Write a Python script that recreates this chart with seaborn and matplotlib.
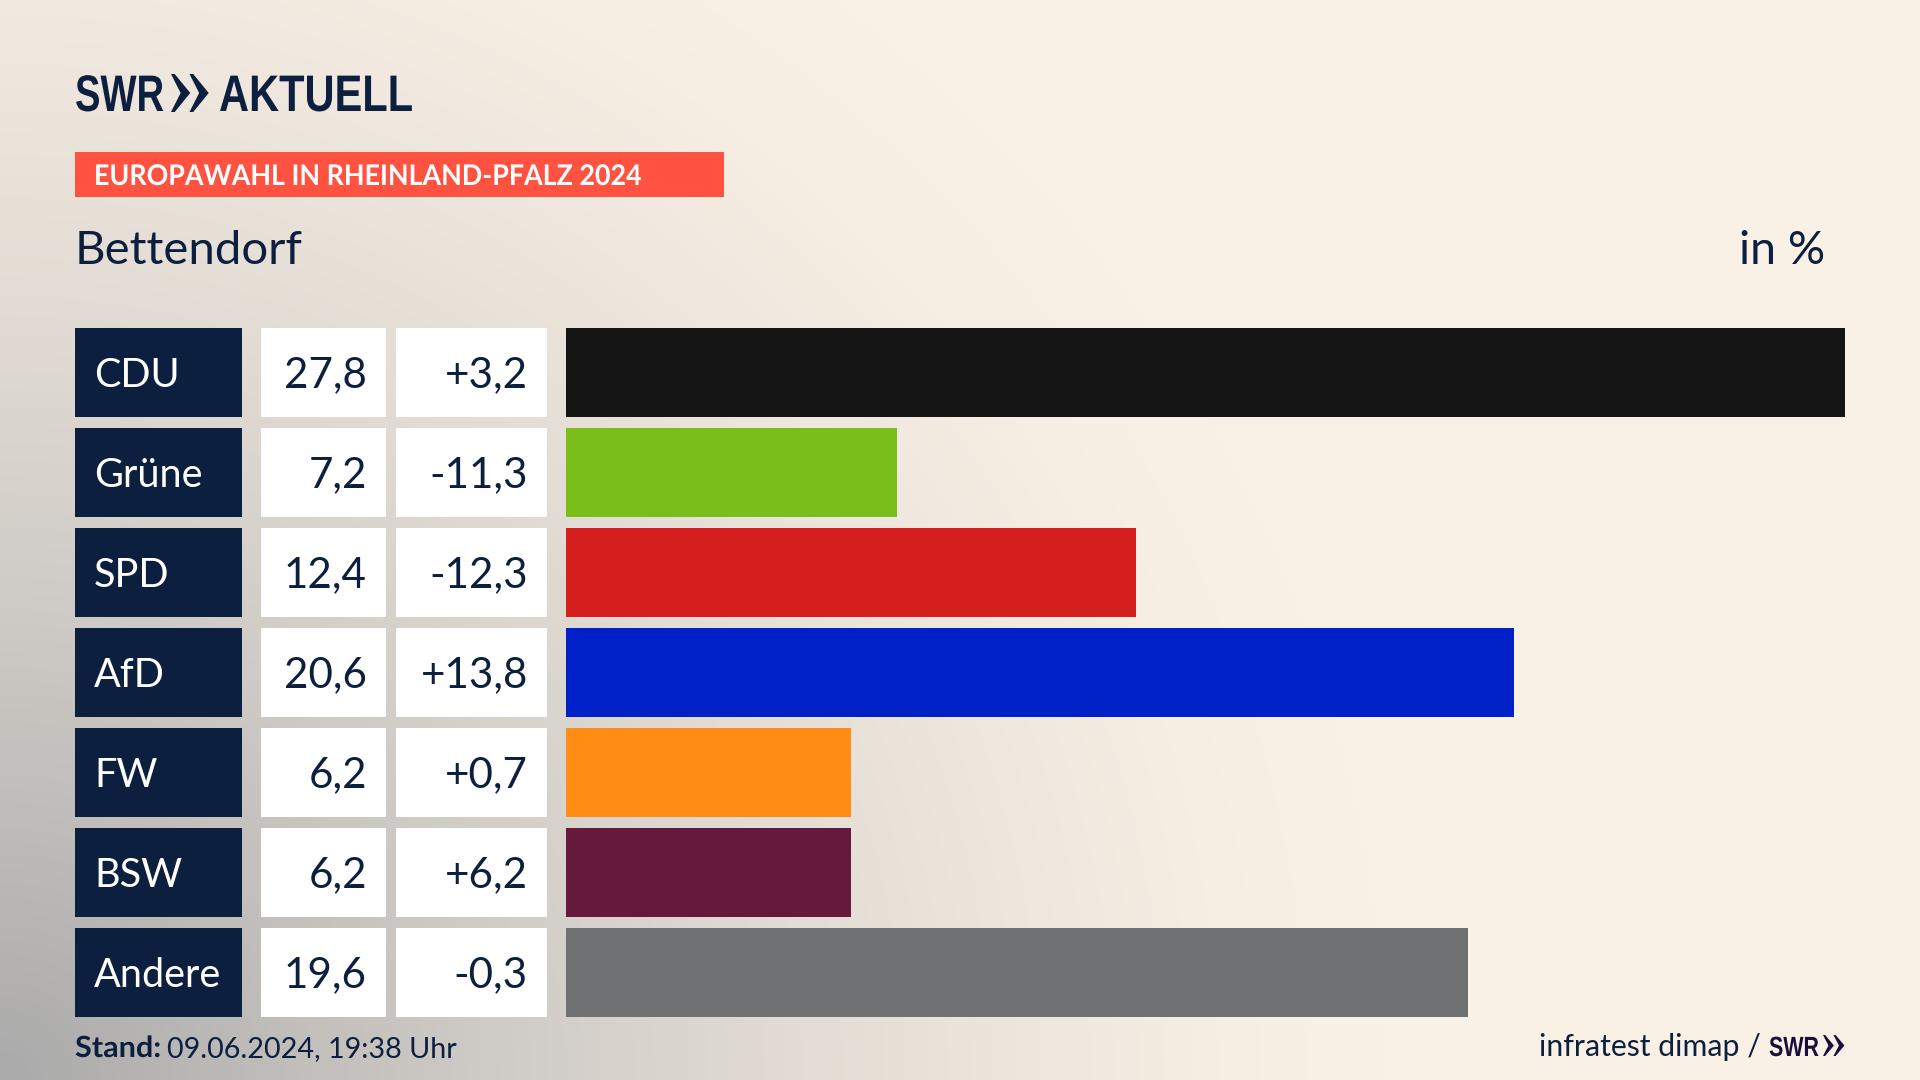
import numpy as np
import pandas as pd
import matplotlib
matplotlib.use('Agg')
import matplotlib.pyplot as plt
import matplotlib.patheffects as pe
import seaborn as sns
from matplotlib.patches import Polygon, Rectangle
from matplotlib.transforms import Affine2D, blended_transform_factory

# Values
parties = ['CDU', 'Grüne', 'SPD', 'AfD', 'FW', 'BSW', 'Andere']
results = [27.8, 7.2, 12.4, 20.6, 6.2, 6.2, 19.6]
changes = [3.2, -11.3, -12.3, 13.8, 0.7, 6.2, -0.3]
bar_colors = ['#141414', '#7ABE1A', '#D61F1F', '#0020C8', '#FF8C14', '#66193D', '#707173']

title = 'EUROPAWAHL IN RHEINLAND-PFALZ 2024'
region = 'Bettendorf'
unit = 'in %'
stand_label = 'Stand:'
stand_date = '09.06.2024, 19:38 Uhr'
source = 'infratest dimap /'

NAVY = '#0C1F3E'
W, H = 1920, 1080

sns.set_theme(style='white')
plt.rcParams['font.family'] = ['Lato', 'DejaVu Sans']

fig = plt.figure(figsize=(W / 100, H / 100), dpi=100)
renderer = fig.canvas.get_renderer()


# squeezes text sideways, the original font is narrower than what is installed
class Squeeze(pe.AbstractPathEffect):
    def __init__(self, sx):
        super().__init__()
        self.sx = sx

    def draw_path(self, renderer, gc, tpath, affine, rgbFace=None):
        renderer.draw_path(gc, tpath, Affine2D().scale(self.sx, 1) + affine, rgbFace)


# pixel position (top left origin) to figure fraction
def fx(x):
    return x / W


def fy(y):
    return 1 - y / H


def px_text(x, y, s, size, color=NAVY, ha='left', weight='normal', family=None, width=None):
    t = fig.text(fx(x), fy(y), s, fontsize=size, color=color, ha=ha, va='baseline',
                 weight=weight, family=family if family else ['Lato', 'DejaVu Sans'])
    if width:
        t.set_path_effects([Squeeze(width / t.get_window_extent(renderer).width)])
    return t


def chevrons(x0, y0, w, h, color):
    # two arrows of the logo
    for k in range(2):
        left = x0 + k * w * 0.5
        pts = [(left, y0), (left + w * 0.1, y0), (left + w * 0.52, y0 + h / 2),
               (left + w * 0.1, y0 + h), (left, y0 + h), (left + w * 0.26, y0 + h / 2)]
        pts = [(fx(a), fy(b)) for a, b in pts]
        fig.add_artist(Polygon(pts, closed=True, transform=fig.transFigure, color=color, lw=0))


# Background: cream with grey glow from the lower left corner
bg_ax = fig.add_axes([0, 0, 1, 1], zorder=0)
xx, yy = np.meshgrid(np.linspace(0, 1, 480), np.linspace(0, 1, 270))
dist = np.sqrt((xx / 0.72) ** 2 + ((1 - yy) / 1.25) ** 2)
glow = np.clip(1 - dist, 0, 1) ** 1.4
cream = np.array([250, 241, 230]) / 255
grey = np.array([170, 170, 170]) / 255
img = cream[None, None, :] * (1 - glow[..., None]) + grey[None, None, :] * glow[..., None]
bg_ax.imshow(img, aspect='auto', extent=[0, 1, 0, 1], origin='upper', interpolation='bilinear')
bg_ax.axis('off')

# Bars
df = pd.DataFrame({'party': parties, 'result': results})
ax = fig.add_axes([fx(566), fy(1022.5), (1845 - 566) / W, 700 / H], zorder=2)
sns.barplot(data=df, x='result', y='party', hue='party', palette=bar_colors, order=parties,
            hue_order=parties, width=0.885, saturation=1, legend=False, linewidth=0, ax=ax)
ax.set_xlim(0, max(results))
ax.set_ylim(6.5, -0.5)
ax.axis('off')
ax.patch.set_alpha(0)

# Table cells left of the bars, x in figure, y in rows
trans = blended_transform_factory(fig.transFigure, ax.transData)
cells = [(75, 242, NAVY), (261, 386, 'white'), (396, 547, 'white')]
for i, party in enumerate(parties):
    for x0, x1, color in cells:
        ax.add_patch(Rectangle((fx(x0), i - 0.4425), (x1 - x0) / W, 0.885, transform=trans,
                               facecolor=color, lw=0, clip_on=False))
    ty = i - 0.004
    ax.text(fx(94), ty, party, transform=trans, fontsize=28.5, color='white', va='center_baseline')
    ax.text(fx(367), ty, f'{results[i]:.1f}'.replace('.', ','), transform=trans, fontsize=30.3,
            color=NAVY, ha='right', va='center_baseline')
    ax.text(fx(528), ty, f'{changes[i]:+.1f}'.replace('.', ','), transform=trans, fontsize=30.3,
            color=NAVY, ha='right', va='center_baseline')

# Header
logo = ['Liberation Sans', 'DejaVu Sans']
px_text(75, 111, 'SWR', 37, weight='bold', family=logo, width=89)
chevrons(171, 74, 37, 38, NAVY)
px_text(219, 111, 'AKTUELL', 37, weight='bold', family=logo, width=194)

fig.add_artist(Rectangle((fx(75), fy(197)), (724 - 75) / W, 45 / H, transform=fig.transFigure,
                         facecolor='#FF5240', lw=0))
px_text(94, 185, title, 20.5, color='white', weight='bold', width=547)
px_text(75, 264, region, 34)
px_text(1825, 264, unit, 33.5, ha='right')

# Footer
px_text(75, 1057, stand_label, 21, weight='bold', width=86)
px_text(167, 1057, stand_date, 20.7)
px_text(1761, 1056, source, 21.8, ha='right')
px_text(1769, 1056, 'SWR', 20, color='#1A0F3C', weight='bold', family=logo, width=50)
chevrons(1823, 1035, 21, 21, '#1A0F3C')

fig.savefig('out.png', dpi=100)
